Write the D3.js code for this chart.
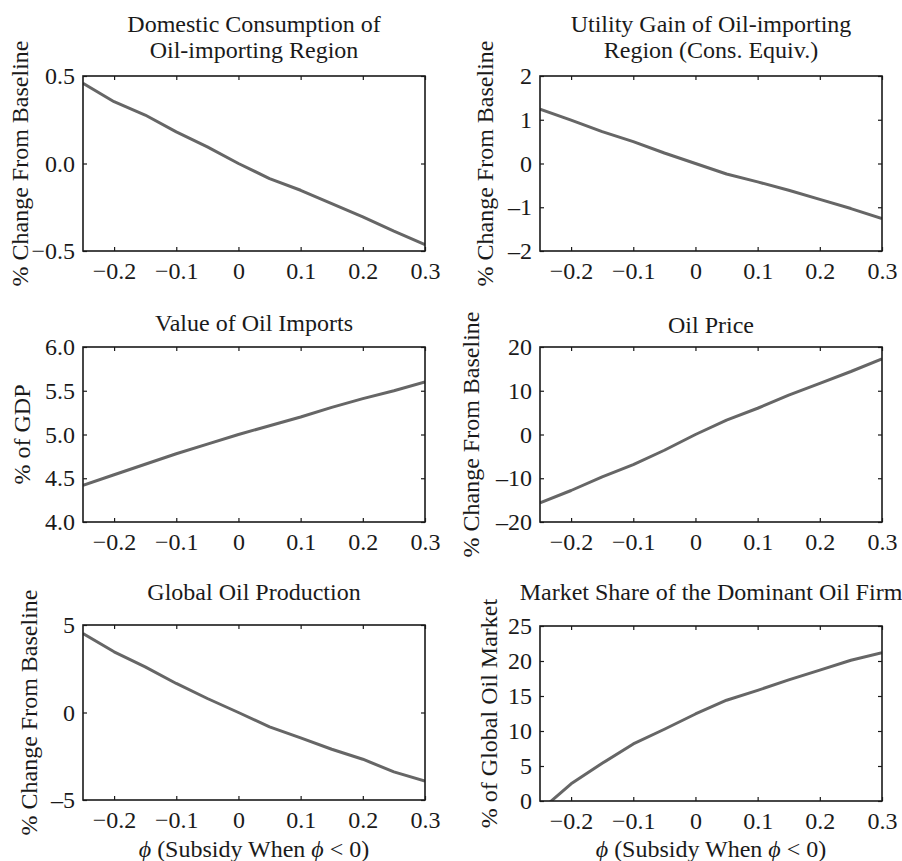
<!DOCTYPE html>
<html>
<head>
<meta charset="utf-8">
<script src="https://cdn.jsdelivr.net/npm/d3@7"></script>
<style>
  body { margin: 0; background: #fff; }
  svg { display: block; }
  text { font-family: "Liberation Serif", "Times New Roman", serif; fill: #1a1a1a; }
</style>
</head>
<body>
<svg class="chart"></svg>
<script>
// subsidy / tax rate phi
var phi = [-0.25, -0.2, -0.15, -0.1, -0.05, 0, 0.05, 0.1, 0.15, 0.2, 0.25, 0.3];

var consumption = [0.458, 0.353, 0.277, 0.181, 0.095, 0.0, -0.086, -0.153, -0.229, -0.305, -0.387, -0.464];
var utility = [1.24, 0.99, 0.73, 0.50, 0.24, 0.0, -0.24, -0.42, -0.61, -0.82, -1.03, -1.26];
var oilImports = [4.42, 4.54, 4.66, 4.78, 4.89, 5.0, 5.1, 5.2, 5.31, 5.41, 5.5, 5.6];
var oilPrice = [-15.6, -12.8, -9.7, -6.9, -3.6, 0.0, 3.3, 6.0, 9.0, 11.7, 14.4, 17.3];
var production = [4.51, 3.47, 2.61, 1.66, 0.8, 0.0, -0.82, -1.45, -2.1, -2.67, -3.39, -3.92];
var marketShare = [-1.4, 2.46, 5.38, 8.15, 10.25, 12.43, 14.4, 15.8, 17.3, 18.7, 20.1, 21.2];

var xTicks = [-0.2, -0.1, 0, 0.1, 0.2, 0.3];
var consumptionTicks = [-0.5, 0, 0.5];
var utilityTicks = [-2, -1, 0, 1, 2];
var importsTicks = [4.0, 4.5, 5.0, 5.5, 6.0];
var priceTicks = [-20, -10, 0, 10, 20];
var productionTicks = [-5, 0, 5];
var shareTicks = [0, 5, 10, 15, 20, 25];

var titles = [
  ["Domestic Consumption of", "Oil-importing Region"],
  ["Utility Gain of Oil-importing", "Region (Cons. Equiv.)"],
  ["Value of Oil Imports"],
  ["Oil Price"],
  ["Global Oil Production"],
  ["Market Share of the Dominant Oil Firm"]
];
var yLabels = ["% Change From Baseline", "% Change From Baseline", "% of GDP",
  "% Change From Baseline", "% Change From Baseline", "% of Global Oil Market"];

var width = 902, height = 861;
var fontSize = 24;
var minus = function (s) { return s.replace("-", "\u2013"); };
var fmt1 = function (d) { return minus(d3.format(".1f")(d)); };
var fmtInt = function (d) { return minus(String(d)); };
var fmtX = function (d) { return d === 0 ? "0" : minus(d3.format(".1f")(d)); };

var panels = [
  { values: consumption, ticks: consumptionTicks, fmt: fmt1, left: 83, top: 76, labelGap: 55, titleY: 58 },
  { values: utility, ticks: utilityTicks, fmt: fmtInt, left: 540, top: 76, labelGap: 47, titleY: 58 },
  { values: oilImports, ticks: importsTicks, fmt: fmt1, left: 83, top: 347, labelGap: 53, titleY: 331 },
  { values: oilPrice, ticks: priceTicks, fmt: fmtInt, left: 540, top: 347, labelGap: 61, titleY: 333 },
  { values: production, ticks: productionTicks, fmt: fmtInt, left: 83, top: 625, labelGap: 46, titleY: 600, xLabel: true },
  { values: marketShare, ticks: shareTicks, fmt: fmtInt, left: 540, top: 626, labelGap: 43, titleY: 600, xLabel: true }
];
var boxW = 342, boxH = 175, tickLen = 4;

var chart = d3.select(".chart")
    .attr("width", width)
    .attr("height", height);

panels.forEach(function (p, i) {
  var x = d3.scaleLinear().domain([-0.25, 0.3]).range([0, boxW]);
  var y = d3.scaleLinear()
      .domain([p.ticks[0], p.ticks[p.ticks.length - 1]])
      .range([boxH, 0]);

  var g = chart.append("g")
      .attr("transform", "translate(" + p.left + "," + p.top + ")");

  g.append("clipPath")
      .attr("id", "clip" + i)
    .append("rect")
      .attr("width", boxW)
      .attr("height", boxH);

  // inward ticks on all four sides, MATLAB style
  var axes = [
    { ax: d3.axisBottom(x).tickValues(xTicks).tickSize(-tickLen).tickPadding(11).tickFormat(fmtX), tr: "translate(0," + boxH + ")", labels: true },
    { ax: d3.axisTop(x).tickValues(xTicks).tickSize(-tickLen), tr: null, labels: false },
    { ax: d3.axisLeft(y).tickValues(p.ticks).tickSize(-tickLen).tickPadding(8).tickFormat(p.fmt), tr: null, labels: true },
    { ax: d3.axisRight(y).tickValues(p.ticks).tickSize(-tickLen), tr: "translate(" + boxW + ",0)", labels: false }
  ];
  axes.forEach(function (a) {
    var ag = g.append("g").call(a.ax);
    if (a.tr) ag.attr("transform", a.tr);
    ag.select(".domain").remove();
    ag.selectAll(".tick line").attr("stroke", "#1a1a1a").attr("stroke-width", 1.2);
    ag.selectAll(".tick text")
        .style("font-size", fontSize + "px")
        .style("font-family", "'Liberation Serif', serif")
        .attr("fill", "#1a1a1a");
    if (!a.labels) ag.selectAll(".tick text").remove();
  });

  g.append("path")
      .datum(p.values)
      .attr("clip-path", "url(#clip" + i + ")")
      .attr("fill", "none")
      .attr("stroke", "#666")
      .attr("stroke-width", 3)
      .attr("stroke-linejoin", "round")
      .attr("d", d3.line()
          .x(function (d, j) { return x(phi[j]); })
          .y(function (d) { return y(d); }));

  g.append("rect")
      .attr("width", boxW)
      .attr("height", boxH)
      .attr("fill", "none")
      .attr("stroke", "#1a1a1a")
      .attr("stroke-width", 1.6);

  // title, one or two lines, last line at titleY
  var t = titles[i];
  t.forEach(function (line, k) {
    chart.append("text")
        .attr("x", p.left + boxW / 2)
        .attr("y", p.titleY - (t.length - 1 - k) * 26)
        .attr("text-anchor", "middle")
        .style("font-size", fontSize + "px")
        .text(line);
  });

  chart.append("text")
      .attr("transform", "translate(" + (p.left - p.labelGap) + "," + (p.top + boxH / 2) + ") rotate(-90)")
      .attr("text-anchor", "middle")
      .style("font-size", fontSize + "px")
      .text(yLabels[i]);

  if (p.xLabel) {
    var xl = chart.append("text")
        .attr("x", p.left + boxW / 2)
        .attr("y", 857)
        .attr("text-anchor", "middle")
        .style("font-size", fontSize + "px");
    xl.append("tspan").style("font-style", "italic").text("\u03D5");
    xl.append("tspan").text(" (Subsidy When ");
    xl.append("tspan").style("font-style", "italic").text("\u03D5");
    xl.append("tspan").text(" < 0)");
  }
});
</script>
</body>
</html>
